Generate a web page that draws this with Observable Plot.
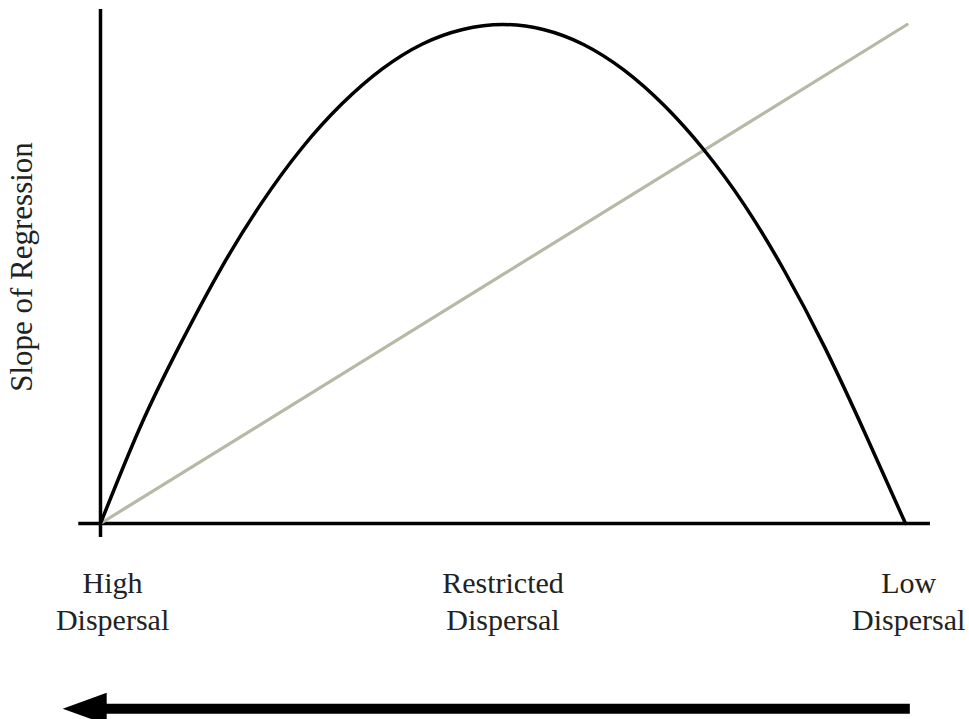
<!DOCTYPE html>
<html>
<head>
<meta charset="utf-8">
<script src="https://cdn.jsdelivr.net/npm/d3@7"></script>
<script src="https://cdn.jsdelivr.net/npm/@observablehq/plot@0.6"></script>
<style>
  html, body { margin: 0; padding: 0; background: #fff; }
  #chart { width: 969px; height: 719px; }
</style>
</head>
<body>
<div id="chart"></div>
<script>
// Dispersal gradient (0 = high dispersal, 1 = low dispersal), relative slope of regression
const curveX = [0, 0.05, 0.10, 0.15, 0.20, 0.25, 0.30, 0.35, 0.40, 0.45, 0.50, 0.55, 0.60, 0.65, 0.70, 0.75, 0.80, 0.85, 0.90, 0.95, 1.0];
const curveY = [0, 0.196, 0.362, 0.512, 0.642, 0.752, 0.841, 0.911, 0.961, 0.990, 1.0, 0.990, 0.960, 0.909, 0.838, 0.748, 0.638, 0.505, 0.352, 0.180, 0];
const lineX = [0, 1.002];
const lineY = [0, 1.0];

const categories = ["High\nDispersal", "Restricted\nDispersal", "Low\nDispersal"];
const categoryX = [0.015, 0.5, 1.004];
const categoryY = -0.153;

const yLabel = "Slope of Regression";
const yLabelPos = {x: -0.097, y: 0.514};

// axis extents (data units)
const xAxisRange = [-0.027, 1.031];
const yAxisRange = [-0.028, 1.03];

// direction arrow along the gradient (data units)
const arrowY = -0.371;
const arrowFrom = 1.006;
const arrowTip = -0.047;
const arrowBodyEnd = 0.0;

const curve = curveX.map((x, i) => ({x, y: curveY[i]}));
const line = lineX.map((x, i) => ({x, y: lineY[i]}));
const labels = categories.map((t, i) => ({t, x: categoryX[i], y: categoryY}));

const font = "'Liberation Serif', 'Times New Roman', serif";

const triangle = {
  draw(context, l, r) {
    context.moveTo(0, -l);
    context.lineTo(-r, 0);
    context.lineTo(r, 0);
    context.closePath();
  }
};

const chart = Plot.plot({
  width: 969,
  height: 719,
  marginLeft: 100,
  marginRight: 64,
  marginTop: 24,
  marginBottom: 196,
  style: {background: "#fff", fontFamily: font, color: "#000"},
  x: {domain: [0, 1], axis: null},
  y: {domain: [0, 1], axis: null},
  marks: [
    Plot.ruleX([0], {y1: yAxisRange[0], y2: yAxisRange[1], stroke: "#000", strokeWidth: 3.5}),
    Plot.ruleY([0], {x1: xAxisRange[0], x2: xAxisRange[1], stroke: "#000", strokeWidth: 3.5}),
    Plot.line(line, {x: "x", y: "y", stroke: "#b8b8a6", strokeWidth: 3.2}),
    Plot.line(curve, {x: "x", y: "y", curve: "natural", stroke: "#000", strokeWidth: 3.5}),
    Plot.text(labels, {x: "x", y: "y", text: "t", fontSize: 30, lineHeight: 1.22, fill: "#222", fontFamily: font}),
    Plot.text([yLabel], {x: yLabelPos.x, y: yLabelPos.y, text: d => d, rotate: -90, fontSize: 31, fill: "#222", fontFamily: font}),
    Plot.ruleY([arrowY], {x1: arrowFrom, x2: arrowBodyEnd, stroke: "#000", strokeWidth: 10}),
    Plot.vector([arrowTip], {x: d => d, y: arrowY, rotate: -90, length: 44, r: 16, anchor: "end", shape: triangle, fill: "#000", stroke: "none"})
  ]
});
document.getElementById("chart").appendChild(chart);
</script>
</body>
</html>
